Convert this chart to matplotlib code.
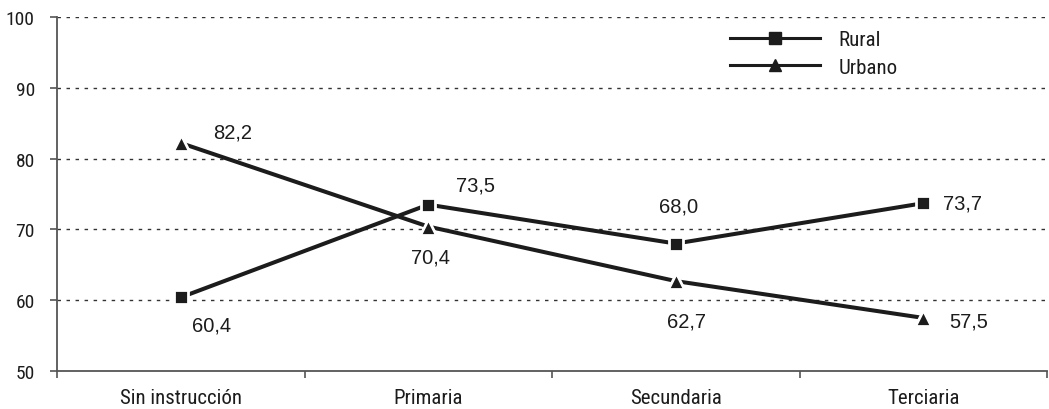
import matplotlib
matplotlib.use("Agg")
import matplotlib.pyplot as plt
from matplotlib import font_manager
from matplotlib.lines import Line2D
from matplotlib.ticker import FixedLocator, NullFormatter

categories = ["Sin instrucción", "Primaria", "Secundaria", "Terciaria"]
rural = [60.4, 73.5, 68.0, 73.7]
urbano = [82.2, 70.4, 62.7, 57.5]
y_ticks = [50, 60, 70, 80, 90, 100]

# label offsets (pixels) for each value label
rural_offsets = [(31, -28), (47, 20), (3, 38), (39, 0)]
urbano_offsets = [(52, 11), (2, -30), (11, -40), (45, -3)]


def pick_family(preferred):
    names = {f.name for f in font_manager.fontManager.ttflist}
    for p in preferred:
        if p in names:
            return p
    return "DejaVu Sans"


narrow_names = sorted({f.name for f in font_manager.fontManager.ttflist
                       if ("Narrow" in f.name or "Condensed" in f.name)
                       and "Mono" not in f.name and "Serif" not in f.name})
NARROW_FAMILY = pick_family(["Liberation Sans Narrow", "Arial Narrow",
                             "Roboto Condensed", "Open Sans Condensed",
                             "DejaVu Sans Condensed"] + narrow_names
                            + ["Liberation Sans"])
NARROW = [NARROW_FAMILY, "DejaVu Sans"]
REGULAR = [pick_family(["Liberation Sans", "Arial"]), "DejaVu Sans"]
INK = "#1c1c1c"

W, H = 1049, 410
fig = plt.figure(figsize=(W / 100, H / 100), dpi=100)
ax = fig.add_axes([57 / W, 38 / H, 990 / W, 354 / H])

x = list(range(len(categories)))

ax.plot(x, rural, color=INK, lw=2.9, marker="s", ms=10, mfc=INK,
        mec="white", mew=2.0, zorder=4, solid_capstyle="butt")
ax.plot(x, urbano, color=INK, lw=2.9, marker="^", ms=12, mfc=INK,
        mec="white", mew=2.0, zorder=4, solid_capstyle="butt")

for xi, v, off in zip(x, rural, rural_offsets):
    ax.annotate(f"{v:.1f}".replace(".", ","), (xi, v), xytext=off,
                textcoords="offset pixels", ha="center", va="center",
                fontsize=14.5, family=REGULAR, color=INK)
for xi, v, off in zip(x, urbano, urbano_offsets):
    ax.annotate(f"{v:.1f}".replace(".", ","), (xi, v), xytext=off,
                textcoords="offset pixels", ha="center", va="center",
                fontsize=14.5, family=REGULAR, color=INK)

ax.set_xlim(-0.5, len(categories) - 0.5)
ax.set_ylim(y_ticks[0], y_ticks[-1])

# dotted horizontal grid lines
for yv in y_ticks[1:]:
    ax.axhline(yv, color="#333333", lw=1.0, ls=(0, (2.5, 4)), zorder=1)

for side in ("top", "right"):
    ax.spines[side].set_visible(False)
for side in ("left", "bottom"):
    ax.spines[side].set_color("#555555")
    ax.spines[side].set_linewidth(1.3)

ax.set_yticks(y_ticks)
ax.set_yticklabels([str(t) for t in y_ticks], family=NARROW, fontsize=14, color=INK)
ax.tick_params(axis="y", direction="out", length=5, width=1.2, color="#555555", pad=11)

ax.set_xticks(x)
ax.set_xticklabels(categories, family=NARROW, fontsize=15, color=INK)
ax.tick_params(axis="x", which="major", length=0, pad=12)
ax.xaxis.set_minor_locator(FixedLocator([i - 0.5 for i in range(len(categories) + 1)]))
ax.xaxis.set_minor_formatter(NullFormatter())
ax.tick_params(axis="x", which="minor", direction="out", length=5, width=1.2, color="#555555")

handles = [
    Line2D([], [], color=INK, lw=2.2, marker="s", ms=8, mfc=INK, mec=INK),
    Line2D([], [], color=INK, lw=2.2, marker="^", ms=9, mfc=INK, mec=INK),
]
ax.legend(handles, ["Rural", "Urbano"], loc="upper left",
          bbox_to_anchor=(730 / W, 1 - 31 / H), bbox_transform=fig.transFigure,
          frameon=False, handlelength=4.3, handletextpad=0.9, borderpad=0,
          borderaxespad=0, labelspacing=0.42, numpoints=1,
          prop={"family": NARROW, "size": 15}, labelcolor=INK)

fig.savefig("out.png", dpi=100)
